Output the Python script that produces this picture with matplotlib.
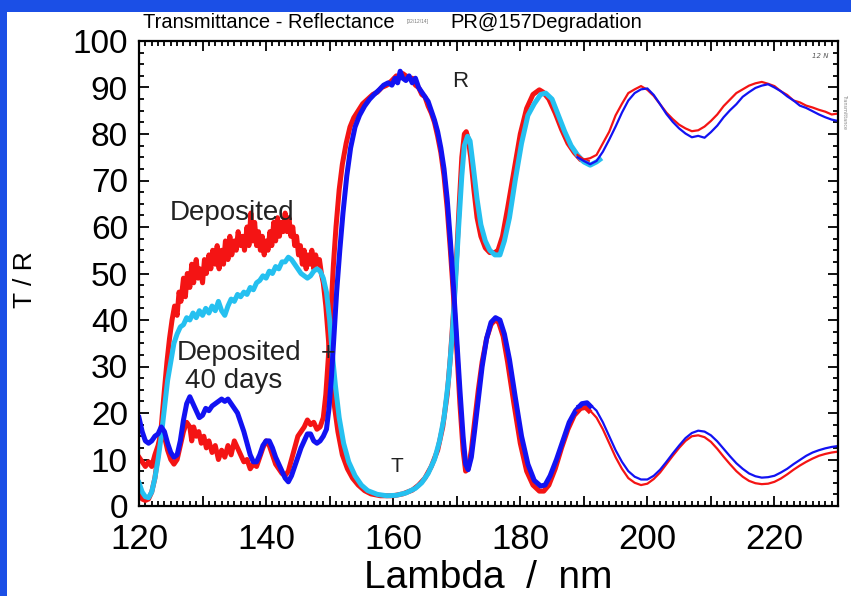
import matplotlib.pyplot as plt
import matplotlib.ticker as mticker
from matplotlib.patches import Rectangle

# ---- data ----
# thick lines, 120-191 nm
t_dep_x = [120.0, 120.5, 121.0, 121.5, 122.0, 122.5, 123.0, 123.5, 124.0, 124.4, 124.8, 125.2, 125.6, 126.0, 126.3, 126.6,
           127.0, 127.3, 127.6, 128.0, 128.3, 128.6, 129.0, 129.3, 129.6, 130.0, 130.3, 130.6, 131.0, 131.3, 131.6, 132.0,
           132.3, 132.6, 133.0, 133.3, 133.6, 134.0, 134.3, 134.6, 135.0, 135.3, 135.6, 136.0, 136.3, 136.6, 137.0, 137.3,
           137.6, 137.9, 138.2, 138.5, 138.8, 139.1, 139.4, 139.7, 140.0, 140.3, 140.6, 140.9, 141.2, 141.5, 141.8, 142.1,
           142.4, 142.7, 143.0, 143.3, 143.6, 143.9, 144.2, 144.5, 144.8, 145.1, 145.4, 145.7, 146.0, 146.3, 146.6, 146.9,
           147.2, 147.5, 147.8, 148.1, 148.4, 148.7, 149.0, 149.4, 149.8, 150.2, 150.7, 151.3, 152.0, 152.8, 153.6, 154.5,
           155.5, 156.5, 158.0, 160.0, 161.5, 163.0, 164.0, 165.0, 166.0, 167.0, 167.8, 168.5, 169.0, 169.5, 170.0, 170.4,
           170.8, 171.2, 171.5, 171.8, 172.2, 172.7, 173.2, 173.8, 174.5, 175.2, 176.0, 176.5, 177.2, 178.0, 179.0, 180.0,
           181.0, 182.0, 183.0, 183.6, 184.5, 185.5, 186.5, 187.5, 188.5, 189.5, 190.5]
t_dep_y = [2.5, 1.5, 1.2, 1.5, 3, 6, 11, 17, 25, 31, 36, 40, 43, 41, 46, 44,
           49, 45, 50, 47, 52, 48, 53, 49, 51, 48, 53, 50, 54, 51, 55, 52,
           56, 51, 55, 52, 57, 53, 58, 54, 57, 55, 59, 56, 58, 55, 60, 56,
           63, 57, 61, 56, 59, 55, 58, 54, 57, 55, 59, 56, 61, 57, 62, 58,
           61, 59, 63, 59, 62, 58, 60, 56, 58, 54, 56, 52, 55, 51, 54, 52,
           55, 51, 54, 52, 53, 50, 48, 43, 36, 29, 22, 16, 11, 8, 6, 4.5,
           3.3, 2.6, 2.2, 2.2, 2.6, 3.4, 4.5, 6, 8.5, 12, 17, 24, 32, 42, 54, 65,
           75, 80, 80.5, 79, 75, 68, 62, 58, 55.5, 54.5, 54.5, 55, 58, 64, 72, 80,
           85.5, 88.5, 89.5, 89, 87.5, 84.5, 81, 78, 76, 74.5, 74]

t_40_x = [120.0, 120.5, 121.0, 121.5, 122.0, 122.5, 123.0, 123.5, 124.0, 124.5, 125.0, 125.5, 126.0, 126.5, 127.0, 127.5,
          128.0, 128.5, 129.0, 129.5, 130.0, 130.5, 131.0, 131.5, 132.0, 132.5, 133.0, 133.5, 134.0, 134.5, 135.0, 135.5,
          136.0, 136.5, 137.0, 137.5, 138.0, 138.5, 139.0, 139.5, 140.0, 140.5, 141.0, 141.5, 142.0, 142.5, 143.0, 143.5,
          144.0, 144.5, 145.0, 145.5, 146.0, 146.5, 147.0, 147.5, 148.0, 148.5, 149.0, 149.5, 150.0, 150.4, 150.9, 151.5,
          152.2, 153.0, 154.0, 155.0, 156.0, 157.5, 159.0, 160.5, 162.0, 163.5, 164.5, 165.5, 166.5, 167.3, 168.0, 168.7,
          169.3, 169.8, 170.3, 170.8, 171.2, 171.7, 172.1, 172.6, 173.2, 173.8, 174.5, 175.2, 176.0, 176.8, 177.5, 178.3,
          179.2, 180.2, 181.2, 182.2, 183.2, 184.0, 185.0, 186.0, 187.0, 188.0, 189.0, 190.0, 191.0, 192.0, 192.5]
t_40_y = [5, 3, 2, 1.8, 3, 6, 10, 15, 21, 27, 31, 35, 37, 38.5, 39, 40.5,
          40, 41.5, 40.5, 42, 41, 42.5, 41.5, 43, 42, 44, 42, 41, 43, 44.5, 44, 45.5,
          45, 46, 45.5, 47, 46.5, 48, 48.5, 49.5, 49, 50.5, 50, 51.5, 51, 52.5, 52.5, 53.5,
          53, 52, 51, 50, 49.5, 49, 49.5, 50.5, 51, 50.5, 49, 46, 40, 33, 26, 19,
          13.5, 9.5, 6.5, 4.5, 3.3, 2.5, 2.2, 2.3, 2.8, 3.8, 5, 7, 10, 14, 19, 27,
          37, 48, 60, 71, 77.5, 79.5, 78.5, 73, 66, 60.5, 57, 55, 54, 54, 57, 62,
          70, 78, 84, 86.5, 88.5, 88.8, 87.5, 84, 80.5, 77.5, 75.5, 74, 73.3, 74, 74.5]

r_dep_x = [120.0, 120.5, 121.0, 121.5, 122.0, 122.5, 123.0, 123.5, 124.0, 124.5, 125.0, 125.5, 126.0, 126.5, 127.0, 127.5,
           128.0, 128.3, 128.6, 129.0, 129.4, 129.8, 130.2, 130.6, 131.0, 131.5, 132.0, 132.5, 133.0, 133.5, 134.0, 134.5,
           135.0, 135.5, 136.0, 136.5, 137.0, 137.5, 138.0, 138.5, 139.0, 139.5, 140.0, 140.5, 141.0, 141.5, 142.0, 142.5,
           143.0, 143.5, 144.0, 144.5, 145.0, 145.5, 146.0, 146.5, 147.0, 147.5, 148.0, 148.5, 149.0, 149.4, 149.8, 150.2,
           150.6, 151.0, 151.5, 152.0, 152.6, 153.2, 153.8, 154.5, 155.2, 156.0, 156.8, 157.5, 158.2, 159.0, 159.8, 160.5,
           161.0, 161.5, 162.0, 162.5, 163.0, 163.5, 164.0, 164.5, 165.0, 165.5, 166.0, 166.5, 167.0, 167.5, 168.0, 168.5,
           169.0, 169.5, 170.0, 170.5, 171.0, 171.4, 171.8, 172.3, 172.8, 173.4, 174.0, 174.7, 175.4, 176.0, 176.6, 177.3,
           178.0, 179.0, 180.0, 181.0, 182.0, 183.0, 183.7, 184.5, 185.5, 186.5, 187.5, 188.5, 189.5, 190.3, 190.8]
r_dep_y = [10.5, 9.5, 8.5, 9.5, 8.5, 11, 13, 16, 15, 12, 10, 9, 10, 13, 16, 18,
           17, 14, 17, 15, 16, 13.5, 15, 12.5, 14, 11.5, 13, 10, 12, 10.5, 13, 11,
           14, 12.5, 11, 9.5, 10, 8, 9, 8.5, 10.5, 12.5, 14, 13, 11, 9, 8, 7,
           6.5, 7.5, 10, 12.5, 15, 16, 17, 18.5, 17.5, 18, 16.5, 17, 19, 24, 32, 42,
           52, 60, 68, 73.5, 78, 81.5, 83.5, 85, 86.5, 87.5, 88.5, 89, 90, 90.5, 91.5, 92.5,
           92, 93, 92.5, 92, 92, 90.5, 90, 88.5, 88, 86, 84.5, 82.5, 79.5, 76, 71, 64,
           55, 45, 34, 22, 12, 7.5, 8, 12, 18, 25, 31, 36, 39, 40, 39.5, 36.5,
           31, 22, 13.5, 7.5, 4.5, 3.2, 3.2, 4.5, 8, 12.5, 16.5, 19.5, 21, 21.2, 20.5]

r_40_x = [120.0, 120.5, 121.0, 121.5, 122.0, 122.5, 123.0, 123.5, 124.0, 124.5, 125.0, 125.5, 126.0, 126.5, 127.0, 127.5,
          128.0, 128.5, 129.0, 129.5, 130.0, 130.5, 131.0, 131.5, 132.0, 132.5, 133.0, 133.5, 134.0, 134.5, 135.0, 135.5,
          136.0, 136.5, 137.0, 137.5, 138.0, 138.5, 139.0, 139.5, 140.0, 140.5, 141.0, 141.5, 142.0, 142.5, 143.0, 143.5,
          144.0, 144.5, 145.0, 145.5, 146.0, 146.5, 147.0, 147.5, 148.0, 148.5, 149.0, 149.5, 149.9, 150.3, 150.7, 151.1,
          151.6, 152.1, 152.7, 153.3, 154.0, 154.7, 155.5, 156.3, 157.0, 157.8, 158.5, 159.2, 159.8, 160.3, 160.7, 161.1,
          161.5, 162.0, 162.5, 163.0, 163.5, 164.0, 164.5, 165.0, 165.5, 166.0, 166.5, 167.0, 167.5, 168.0, 168.5, 169.0,
          169.5, 170.0, 170.5, 171.0, 171.4, 171.8, 172.3, 172.8, 173.4, 174.0, 174.7, 175.4, 176.1, 176.8, 177.5, 178.3,
          179.2, 180.2, 181.2, 182.2, 183.2, 183.9, 184.7, 185.7, 186.7, 187.7, 188.7, 189.7, 190.5, 191.0]
r_40_y = [19, 16, 14, 13.5, 14, 15, 15.5, 17, 16, 13.5, 11.5, 10.5, 11, 14, 18.5, 22,
          23.5, 22, 20.5, 19, 19.5, 21, 20.5, 21.5, 22, 22.5, 23, 22.5, 23, 22, 21, 20,
          18, 16, 13.5, 11, 9.5, 9.5, 11, 13, 14, 14, 12.5, 10.5, 9, 7.5, 6, 5.2,
          6.5, 8.5, 10.5, 12.5, 14, 15.5, 15.5, 14, 13.5, 14, 15, 16.5, 21, 28, 37, 46,
          55, 63, 71, 77, 81.5, 84, 86, 87.5, 88.5, 89.5, 90.5, 91, 90.5, 92, 91, 93.5,
          92, 91.5, 92.5, 91, 92, 90, 89, 88, 87, 85, 83, 80.5, 77, 72.5, 66, 57,
          47, 36, 25, 15, 9, 7.8, 10.5, 16, 23, 30, 36, 39.5, 40.5, 40, 37, 31.5,
          23.5, 15, 9, 5.5, 4.3, 4.5, 6.5, 10, 14, 18, 20.5, 22, 22.2, 21.5]

# thin lines, 189-230 nm
thin_x = [189, 190, 191, 192, 193, 194, 195, 196, 197, 198, 199, 200, 201, 202, 203, 204, 205, 206, 207, 208, 209,
          210, 211, 212, 213, 214, 215, 216, 217, 218, 219, 220, 221, 222, 223, 224, 225, 226, 227, 228, 229, 230]
t_dep_thin = [75.5, 74.5, 74.8, 75.5, 78, 80.5, 84, 86.5, 88.8, 89.6, 90.3, 89.5, 88.2, 86.4, 84.6, 83.2, 82, 81.2, 80.6,
              80.8, 81.6, 82.8, 84.2, 86, 87.4, 88.8, 89.6, 90.4, 90.9, 91.2, 90.8, 90.3, 89.2, 88.4, 87.2, 86.8, 86.1, 85.7,
              85.2, 84.8, 84.2, 84.4]
t_40_thin = [75, 74.2, 73.5, 74.2, 76.2, 78.8, 81.6, 84.6, 87.2, 88.8, 89.6, 89.8, 88.4, 86.4, 84.3, 82.6, 81.2, 80.1, 79.3,
             79.6, 79.2, 80.4, 81.8, 83.6, 85.1, 86.4, 88, 89, 89.9, 90.4, 90.7, 90, 89.2, 88.1, 87.2, 86.1, 85.6, 84.9,
             84.2, 83.6, 83.1, 82.8]
r_dep_thin = [20.5, 21, 20.5, 19, 16.5, 13.5, 10.5, 8, 6, 5, 4.5, 4.8, 5.8, 7.2, 9, 10.8, 12.5, 14, 15, 15.2, 14.8,
              13.8, 12.3, 10.6, 9, 7.5, 6.3, 5.4, 4.9, 4.7, 4.8, 5.2, 5.9, 6.8, 7.8, 8.7, 9.5, 10.2, 10.8, 11.2, 11.5, 11.7]
r_40_thin = [21.5, 22, 21.8, 20.5, 18, 15, 12, 9.5, 7.5, 6.3, 5.7, 5.7, 6.5, 7.8, 9.5, 11.3, 13, 14.6, 15.7, 16.2, 16,
             15.2, 13.9, 12.3, 10.7, 9.2, 8, 7, 6.4, 6.1, 6.2, 6.5, 7.2, 8, 9, 9.9, 10.8, 11.5, 12, 12.4, 12.7, 12.9]

RED = '#f41414'
BLUE = '#1212f2'
CYAN = '#25c0f0'

fig = plt.figure(figsize=(8.51, 5.96), dpi=100)
fig.patch.set_facecolor('#1b4fe6')
fig.patches.append(Rectangle((7 / 851, 0), 1, (596 - 12) / 596, transform=fig.transFigure,
                             facecolor='white', edgecolor='none', zorder=-10))

ax = fig.add_axes([139 / 851, 1 - 506 / 596, (838 - 139) / 851, (506 - 41) / 596])
ax.set_facecolor('white')

# thick: deposited (red) and after 40 days (cyan / blue)
ax.plot(t_dep_x, t_dep_y, color=RED, lw=3.6, solid_joinstyle='round')
ax.plot(r_dep_x, r_dep_y, color=RED, lw=3.6, solid_joinstyle='round')
ax.plot(t_40_x, t_40_y, color=CYAN, lw=3.6, solid_joinstyle='round')
ax.plot(r_40_x, r_40_y, color=BLUE, lw=3.6, solid_joinstyle='round')
# thin
ax.plot(thin_x, t_dep_thin, color=RED, lw=1.6)
ax.plot(thin_x, r_dep_thin, color=RED, lw=1.6)
ax.plot(thin_x, t_40_thin, color=BLUE, lw=1.6)
ax.plot(thin_x, r_40_thin, color=BLUE, lw=1.6)

ax.set_xlim(120, 230)
ax.set_ylim(0, 100)

ax.xaxis.set_major_locator(mticker.MultipleLocator(10))
ax.xaxis.set_minor_locator(mticker.MultipleLocator(1))
ax.xaxis.set_major_formatter(mticker.FuncFormatter(lambda v, p: '%d' % v if v % 20 == 0 and v < 230 else ''))
ax.yaxis.set_major_locator(mticker.MultipleLocator(10))
ax.yaxis.set_minor_locator(mticker.MultipleLocator(2.5))

ax.tick_params(which='both', direction='in', top=True, right=True, width=1.3, colors='black')
ax.tick_params(which='major', length=7)
ax.tick_params(which='minor', length=3.5)
ax.tick_params(axis='y', which='major', labelsize=24, pad=8)
ax.tick_params(axis='x', which='major', labelsize=25, pad=12)
for lab in ax.get_xticklabels() + ax.get_yticklabels():
    lab.set_family('Liberation Sans')
for sp in ax.spines.values():
    sp.set_linewidth(1.6)

ax.set_xlabel('Lambda  /  nm', fontsize=28, family='Liberation Sans', labelpad=3)
fig.text(25 / 851, 1 - 280 / 596, 'T / R', rotation=90, fontsize=19, family='Liberation Sans',
         ha='center', va='center')

# labels inside the plot
txt = dict(family='Liberation Sans', color='#222222')
ax.text(134.7, 63, 'Deposited', fontsize=20, ha='center', va='center', **txt)
ax.text(126.0, 33, 'Deposited', fontsize=20, ha='left', va='center', **txt)
ax.text(149.7, 33, '+', fontsize=18, ha='center', va='center', **txt)
ax.text(127.2, 26.8, '40 days', fontsize=20, ha='left', va='center', **txt)
ax.text(170.6, 91.2, 'R', fontsize=16, ha='center', va='center', **txt)
ax.text(160.6, 8.4, 'T', fontsize=15, ha='center', va='center', **txt)
ax.text(228.5, 96.8, '12 N', fontsize=5, style='italic', ha='right', va='center', color='#555555')

# title line above the frame
fig.text(143 / 851, 1 - 22 / 596, 'Transmittance - Reflectance', fontsize=14.5, family='Liberation Sans', va='center')
fig.text(407 / 851, 1 - 22 / 596, '[02/12/14]', fontsize=3.5, family='Liberation Sans', va='center', color='#777777')
fig.text(450 / 851, 1 - 22 / 596, 'PR@157Degradation', fontsize=14.5, family='Liberation Sans', va='center')
fig.text(845 / 851, 1 - 112 / 596, 'Transmittance', fontsize=3.5, rotation=270, ha='center', va='center',
         color='#888888')

fig.savefig('out.png', dpi=100, facecolor=fig.get_facecolor())
